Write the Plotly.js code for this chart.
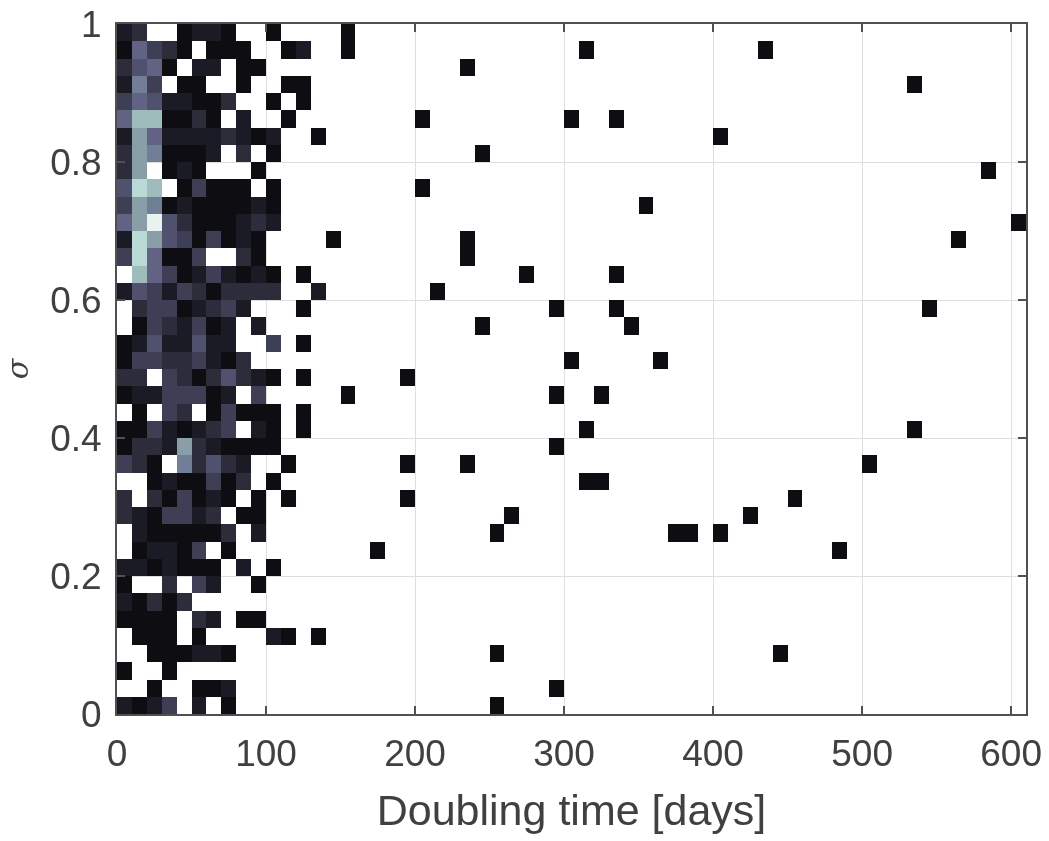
<!DOCTYPE html>
<html><head><meta charset="utf-8">
<script src="https://cdn.plot.ly/plotly-3.0.1.min.js"></script>
<style>html,body{margin:0;padding:0;background:#fff}#c{width:1049px;height:841px;filter:blur(0.55px)}</style>
</head><body><div id="c"></div>
<script>
// Counts per 10-day bin (columns) for each sigma bin, top row (sigma 0.975-1) first
const rowCounts = [
[2,3,0,0,1,2,2,1,0,0,1,0,0,0,0,1],
[1,6,4,3,1,0,1,1,1,0,0,1,2,0,0,1],
[3,5,6,1,0,2,2,0,1,1],
[2,7,4,0,1,1,0,0,1,0,0,1,1],
[4,6,5,2,2,1,1,3,0,0,1,0,1],
[6,9,9,1,1,3,1,0,2,0,0,1],
[2,8,6,2,2,2,2,3,2,1,2,0,0,1],
[3,8,7,1,1,1,2,0,3,0,1],
[3,8,0,1,2,1,0,0,0,1],
[5,10,9,0,1,4,1,1,1,0,1],
[4,8,7,1,2,1,1,1,1,2,1],
[6,8,12,5,3,1,1,1,2,3,2],
[2,10,8,5,4,1,4,1,2,1,0,0,0,0,1],
[4,10,6,1,1,4,0,0,3,1],
[0,9,6,4,1,2,4,2,1,2,1,0,1],
[2,5,4,2,4,3,1,3,3,3,3,0,0,2],
[0,3,4,4,1,2,3,4,2,0,0,0,1],
[0,1,4,3,2,4,1,2,0,2],
[1,2,5,2,2,5,2,2,0,0,4,0,1],
[1,4,4,3,3,4,2,1,3],
[3,3,0,4,3,1,3,5,3,2,1,0,1],
[1,2,2,4,4,4,1,2,0,4,0,0,0,0,0,1],
[0,1,0,4,3,0,1,4,1,1,1,0,1],
[1,1,4,2,1,2,3,4,0,2,1,0,1],
[1,3,3,2,8,3,2,1,1,1,1],
[4,3,1,0,7,3,5,3,2,0,0,1],
[0,0,1,2,1,1,4,1,3,0,1],
[3,0,3,1,4,1,2,1,0,1,0,1],
[3,2,1,4,4,2,3,0,1,1],
[0,2,1,1,1,1,1,3,0,2],
[0,1,2,2,1,4,0,1],
[2,2,1,2,1,1,1,0,2,0,1],
[1,0,0,3,0,4,2,0,0,1],
[2,1,3,1,3],
[1,1,1,1,0,3,2,0,1,1],
[0,1,1,1,0,1,0,0,0,0,2,1,0,1],
[0,0,1,1,1,2,2,1],
[1,0,0,1],
[0,0,1,0,0,1,1,2],
[2,1,2,4,0,2,0,1]
];
// Isolated long doubling-time cells: bin-start day and sigma-bin index from the top
const sparseDay = [310,430,230,530,200,300,330,400,240,580,200,350,230,230,560,600,270,330,210,290,330,540,340,240,300,360,190,290,320,310,530,290,190,230,500,310,320,190,450,260,420,250,370,380,400,480,170,250,440,290,250];
const sparseRow = [1,1,2,3,5,5,5,6,7,8,9,10,12,13,12,11,14,14,15,16,16,16,17,17,19,19,20,21,21,23,23,24,25,25,25,26,26,27,27,28,28,29,29,29,29,30,30,36,36,38,39];
const xTicks = [0,100,200,300,400,500,600];
const yTicks = [0,0.2,0.4,0.6,0.8,1];
const yTickText = ['0','0.2','0.4','0.6','0.8','1'];
const nCols = 61, nRows = 40, dayBin = 10, sigmaBin = 0.025;

const grid = [];
for (let r = 0; r < nRows; r++) {
  const line = [];
  for (let c = 0; c < nCols; c++) {
    const v = rowCounts[r][c];
    line.push(v ? v : null);
  }
  grid.push(line);
}
sparseDay.forEach((d, i) => { grid[sparseRow[i]][d / dayBin] = 1; });
const zValues = grid.slice().reverse();
const xCenters = Array.from({length: nCols}, (_, i) => (i + 0.5) * dayBin);
const yCenters = Array.from({length: nRows}, (_, i) => (i + 0.5) * sigmaBin);

const stops = [[0,'#000000'],[1/13,'#0d0d12'],[2/13,'#1b1b26'],[3/13,'#2c2c3a'],[4/13,'#3e3e54'],[5/13,'#50506f'],[6/13,'#626284'],[7/13,'#707f96'],[8/13,'#8a9ea8'],[9/13,'#9fbcbd'],[10/13,'#b9dad6'],[12/13,'#e8f2ee'],[1,'#ffffff']];
const tickFont = {family:'"Liberation Sans", Arial, sans-serif', size:37, color:'#404040'};

Plotly.newPlot('c', [{
  type:'heatmap', x:xCenters, y:yCenters, z:zValues, zmin:0, zmax:13,
  colorscale:stops, showscale:false, hoverongaps:false, xgap:0, ygap:0
}], {
  width:1049, height:841, paper_bgcolor:'#fff', plot_bgcolor:'#fff', showlegend:false,
  margin:{l:117,r:23,t:24,b:127},
  xaxis:{range:[0,610], tickvals:xTicks, ticktext:xTicks.map(String), ticks:'inside', ticklen:8, tickwidth:1.2, tickcolor:'#505050', ticklabelstandoff:6,
    showgrid:true, gridcolor:'#dedede', gridwidth:1, zeroline:false, showline:true, linecolor:'#505050', linewidth:2, mirror:'ticks',
    tickfont:tickFont, title:{text:'Doubling time [days]', font:{...tickFont, size:43}, standoff:21}, automargin:false},
  yaxis:{range:[0,1], tickvals:yTicks, ticktext:yTickText, ticks:'inside', ticklen:8, tickwidth:1.2, tickcolor:'#505050', ticklabelstandoff:6,
    showgrid:true, gridcolor:'#dedede', gridwidth:1, zeroline:false, showline:true, linecolor:'#505050', linewidth:2, mirror:'ticks',
    tickfont:tickFont, title:{text:'<i>σ</i>', font:{family:'"DejaVu Serif", serif', size:30, color:'#404040'}, standoff:14}, automargin:false}
}, {displayModeBar:false, staticPlot:true});
</script></body></html>
